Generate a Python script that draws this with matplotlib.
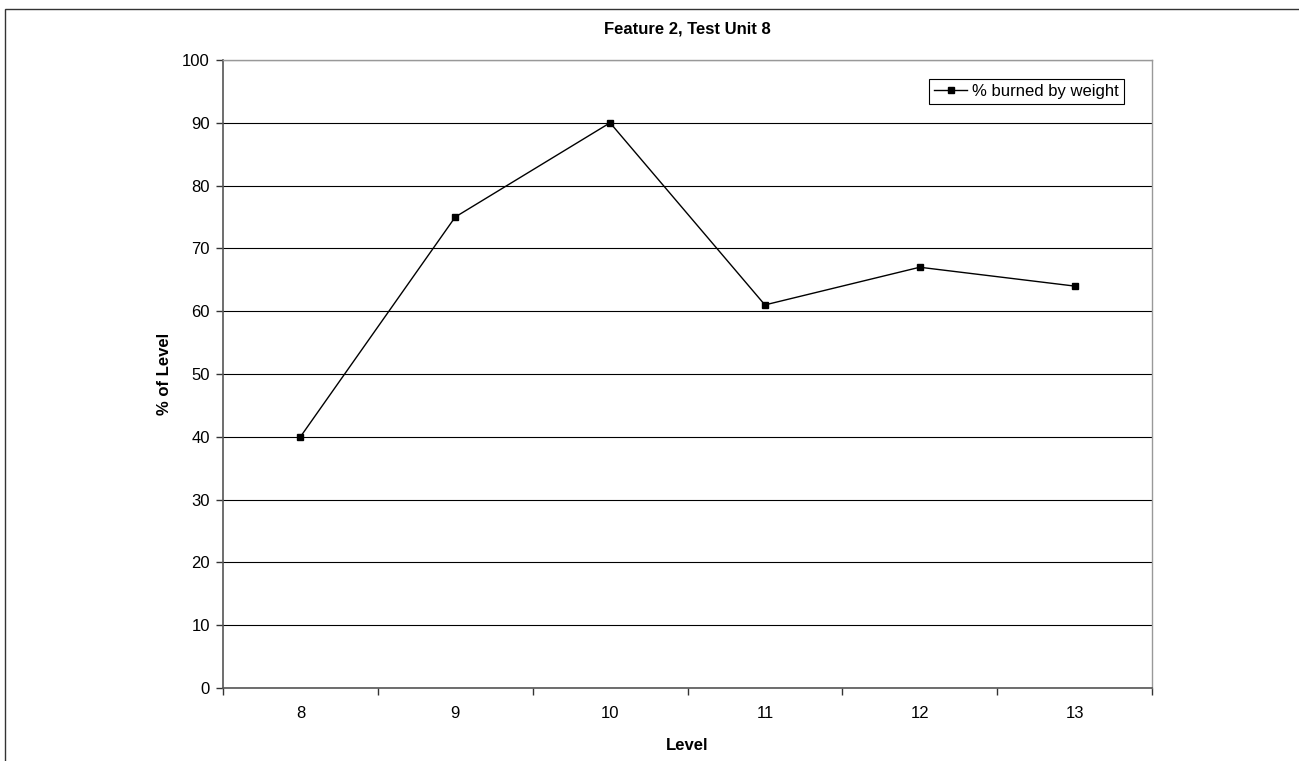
import numpy as np
import matplotlib
matplotlib.use('Agg')
import matplotlib.pyplot as plt
from matplotlib.patches import Rectangle

plt.rcParams['font.family'] = ['Liberation Sans', 'DejaVu Sans']

###

levels = ['8', '9', '10', '11', '12', '13']
pct_burned = [40, 75, 90, 61, 67, 64]
series_name = '% burned by weight'

fig = plt.figure(figsize=(12.99, 7.61), dpi=100)
ax = fig.add_axes([223 / 1299, 1 - 688 / 761, (1152 - 223) / 1299, (688 - 60) / 761])

# outer chart border (right/bottom run off the image like the original)
fig.patches.append(Rectangle((5 / 1299, -0.1), 1.2, 1 - 9 / 761 + 0.1,
                             transform=fig.transFigure, fill=False,
                             edgecolor='#333333', linewidth=1.0))

x = np.arange(len(levels))
ax.plot(x, pct_burned, color='black', linewidth=1.0, marker='s',
        markersize=5, markerfacecolor='black', markeredgecolor='black',
        label=series_name, zorder=3)

ax.set_xlim(-0.5, len(levels) - 0.5)
ax.set_ylim(0, 100)
ax.set_yticks(np.arange(0, 101, 10))
ax.yaxis.grid(True, color='black', linewidth=0.8)
ax.set_axisbelow(True)

ax.set_xticks(x)
ax.set_xticklabels(levels)
ax.set_xticks(np.arange(-0.5, len(levels), 1.0), minor=True)
ax.tick_params(axis='x', which='major', length=0, pad=13, labelsize=12)
ax.tick_params(axis='x', which='minor', length=5, width=1, color='#333333', direction='out')
ax.tick_params(axis='y', length=5, width=1, color='#333333', direction='out', labelsize=12, pad=4.5)

for side in ['left', 'bottom']:
    ax.spines[side].set_color('#555555')
    ax.spines[side].set_linewidth(1.2)
for side in ['top', 'right']:
    ax.spines[side].set_color('#999999')
    ax.spines[side].set_linewidth(1.0)

ax.set_title('Feature 2, Test Unit 8', fontsize=12, fontweight='bold', pad=19)
ax.set_xlabel('Level', fontsize=12, fontweight='bold', labelpad=12)
ax.set_ylabel('% of Level', fontsize=12, fontweight='bold', labelpad=7)

leg = ax.legend(loc='upper right', bbox_to_anchor=((1124 - 223) / (1152 - 223), 1 - (79 - 60) / (688 - 60)),
                fontsize=12, frameon=True, fancybox=False, framealpha=1,
                borderpad=0.3, handlelength=2.0, handletextpad=0.3, borderaxespad=0)
leg.get_frame().set_edgecolor('black')
leg.get_frame().set_linewidth(0.8)

fig.savefig('out.png', dpi=100)
